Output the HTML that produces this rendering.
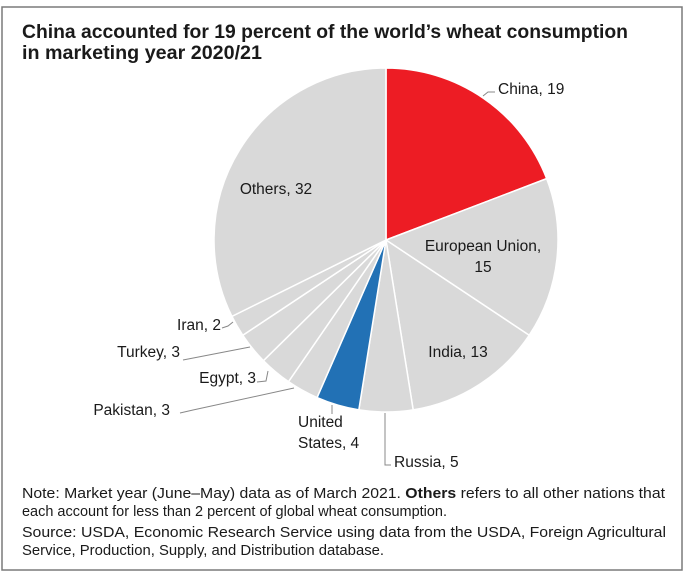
<!DOCTYPE html>
<html><head><meta charset="utf-8"><style>
html,body{margin:0;padding:0;background:#fff}
svg{display:block}
text{font-family:"Liberation Sans Narrow","Liberation Sans",sans-serif;fill:#1a1a1a}
</style></head><body>
<svg id="chart" width="690" height="581" viewBox="0 0 690 581">
<rect x="2" y="7" width="680" height="563" fill="#fff" stroke="#7a7a7a" stroke-width="1.5"/>
<text x="22" y="38" font-size="19" font-weight="bold" textLength="606" lengthAdjust="spacingAndGlyphs">China accounted for 19 percent of the world’s wheat consumption</text>
<text x="22" y="59" font-size="19" font-weight="bold" textLength="240" lengthAdjust="spacingAndGlyphs">in marketing year 2020/21</text>
<g id="slices"></g>
<g id="labels"></g>
<g stroke="#888" stroke-width="1" fill="none">
<polyline points="483,96 488,92 495,92"/>
<polyline points="222,328 228,326 233,322"/>
<polyline points="183,360 250,347"/>
<polyline points="257,382 266,381 268,371"/>
<polyline points="180,413 193,410 294,388"/>
<polyline points="332,405 332,414"/>
<polyline points="385,413 385,465 391,465"/>
</g>
<text x="22" y="498" font-size="15" textLength="643" lengthAdjust="spacingAndGlyphs">Note: Market year (June–May) data as of March 2021. <tspan font-weight="bold">Others</tspan> refers to all other nations that</text>
<text x="22" y="516" font-size="15" textLength="425" lengthAdjust="spacingAndGlyphs">each account for less than 2 percent of global wheat consumption.</text>
<text x="22" y="537" font-size="15" textLength="644" lengthAdjust="spacingAndGlyphs">Source: USDA, Economic Research Service using data from the USDA, Foreign Agricultural</text>
<text x="22" y="555" font-size="15" textLength="362" lengthAdjust="spacingAndGlyphs">Service, Production, Supply, and Distribution database.</text>
</svg>
<script>
const categories = ["China","European Union","India","Russia","United States","Pakistan","Egypt","Turkey","Iran","Others"];
const values = [19,15,13,5,4,3,3,3,2,32];
const colors = ["#ed1c24","#d9d9d9","#d9d9d9","#d9d9d9","#2271b5","#d9d9d9","#d9d9d9","#d9d9d9","#d9d9d9","#d9d9d9"];
const labelLines = [["China, 19"],["European Union,","15"],["India, 13"],["Russia, 5"],["United","States, 4"],["Pakistan, 3"],["Egypt, 3"],["Turkey, 3"],["Iran, 2"],["Others, 32"]];
const labelPos = [[498,94,"start"],[483,251,"middle"],[458,357,"middle"],[394,467,"start"],[298,427,"start"],[170,415,"end"],[256,383,"end"],[180,357,"end"],[221,330,"end"],[276,194,"middle"]];
const NS="http://www.w3.org/2000/svg";
const cx=386, cy=240, r=172;
const total=values.reduce((a,b)=>a+b,0);
function pt(a){return [cx+r*Math.sin(a), cy-r*Math.cos(a)];}
const gs=document.getElementById('slices'), gl=document.getElementById('labels');
let acc=0;
values.forEach((v,i)=>{
  const a0=acc/total*2*Math.PI; acc+=v; const a1=acc/total*2*Math.PI;
  const p0=pt(a0), p1=pt(a1);
  const large=(a1-a0)>Math.PI?1:0;
  const p=document.createElementNS(NS,'path');
  p.setAttribute('d',`M${cx},${cy}L${p0[0]},${p0[1]}A${r},${r} 0 ${large} 1 ${p1[0]},${p1[1]}Z`);
  p.setAttribute('fill',colors[i]);
  p.setAttribute('stroke','#fff');
  p.setAttribute('stroke-width','1.5');
  
  
  gs.appendChild(p);
  const lp=labelPos[i];
  const t=document.createElementNS(NS,'text');
  t.setAttribute('x',lp[0]); t.setAttribute('y',lp[1]);
  t.setAttribute('font-size','15.5');
  t.setAttribute('text-anchor',lp[2]);
  
  
  labelLines[i].forEach((s,j)=>{
    const ts=document.createElementNS(NS,'tspan');
    ts.setAttribute('x',lp[0]); if(j>0) ts.setAttribute('dy','21');
    ts.textContent = j===labelLines[i].length-1 ? s.replace(/\d+$/,String(values[i])) : s;
    t.appendChild(ts);
  });
  gl.appendChild(t);
});
</script>
</body></html>
